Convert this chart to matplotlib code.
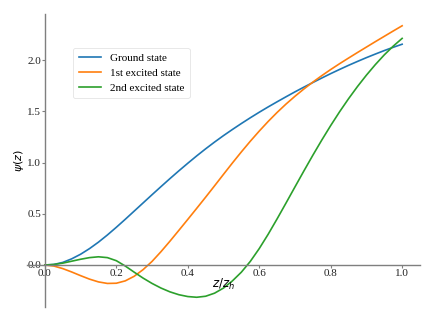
import matplotlib
matplotlib.use("Agg")
import matplotlib.pyplot as plt

z = [0.0, 0.025, 0.05, 0.075, 0.1, 0.125, 0.15, 0.175, 0.2, 0.225,
     0.25, 0.275, 0.3, 0.325, 0.35, 0.375, 0.4, 0.425, 0.45, 0.475,
     0.5, 0.525, 0.55, 0.575, 0.6, 0.625, 0.65, 0.675, 0.7, 0.725,
     0.75, 0.775, 0.8, 0.825, 0.85, 0.875, 0.9, 0.925, 0.95, 0.975, 1.0]
ground = [0.0, 0.005, 0.025, 0.06, 0.105, 0.16, 0.223, 0.293, 0.368, 0.446,
          0.526, 0.606, 0.686, 0.765, 0.843, 0.919, 0.993, 1.065, 1.134, 1.200,
          1.263, 1.323, 1.381, 1.437, 1.491, 1.543, 1.593, 1.642, 1.690, 1.736,
          1.781, 1.825, 1.868, 1.909, 1.949, 1.987, 2.024, 2.059, 2.093, 2.125, 2.155]
first = [0.0, -0.01, -0.035, -0.068, -0.104, -0.138, -0.165, -0.18, -0.178, -0.155,
         -0.11, -0.045, 0.035, 0.13, 0.232, 0.338, 0.445, 0.553, 0.662, 0.773,
         0.885, 0.996, 1.104, 1.208, 1.307, 1.401, 1.489, 1.571, 1.647, 1.718,
         1.785, 1.848, 1.908, 1.965, 2.02, 2.074, 2.127, 2.18, 2.232, 2.284, 2.335]
second = [0.0, 0.005, 0.018, 0.037, 0.056, 0.072, 0.08, 0.072, 0.042, -0.01,
          -0.07, -0.128, -0.18, -0.225, -0.262, -0.29, -0.308, -0.315, -0.305, -0.275,
          -0.225, -0.155, -0.07, 0.035, 0.16, 0.30, 0.45, 0.605, 0.762, 0.918,
          1.071, 1.219, 1.361, 1.496, 1.623, 1.742, 1.853, 1.956, 2.051, 2.136, 2.212]
labels = ["Ground state", "1st excited state", "2nd excited state"]
xticks = [0.0, 0.2, 0.4, 0.6, 0.8, 1.0]
yticks = [0.0, 0.5, 1.0, 1.5, 2.0]

W, H = 435, 309
fig = plt.figure(figsize=(W / 100, H / 100), dpi=100)
ax = fig.add_axes([27 / W, 1 - 307 / H, (420 - 27) / W, (307 - 14) / H])

for ys, lab in zip([ground, first, second], labels):
    ax.plot(z, ys, lw=1.2, label=lab)

ax.set_xlim(-0.05, 1.05)
ax.set_ylim(-0.41, 2.45)
ax.spines["left"].set_position(("data", 0))
ax.spines["bottom"].set_position(("data", 0))
ax.spines["top"].set_visible(False)
ax.spines["right"].set_visible(False)
for s in ("left", "bottom"):
    ax.spines[s].set_color("#7f7f7f")
    ax.spines[s].set_linewidth(1.0)
ax.tick_params(colors="#7f7f7f", length=2.0, width=0.8, pad=0.8, labelcolor="#222222")

ax.set_xticks(xticks)
ax.set_yticks(yticks)
ax.set_xticklabels([f"{t:.1f}" for t in xticks], fontfamily="Liberation Serif", fontsize=8)
ax.set_yticklabels([f"{t:.1f}" for t in yticks], fontfamily="Liberation Serif", fontsize=8)

fig.text(223 / W, 1 - 284 / H, r"$z/z_h$", ha="center", va="center", fontsize=8.5)
fig.text(19.5 / W, 1 - 161 / H, r"$\psi(z)$", ha="center", va="center", fontsize=8, rotation=90)

leg = fig.legend(*ax.get_legend_handles_labels(), loc="upper left",
                 bbox_to_anchor=(73 / W, 1 - 48 / H),
                 prop={"family": "Liberation Serif", "size": 8}, handlelength=2.0,
                 handletextpad=0.8, frameon=True, borderpad=0.5, labelspacing=0.45,
                 borderaxespad=0.0)
leg.get_frame().set_edgecolor("#dddddd")
leg.get_frame().set_linewidth(0.6)

fig.savefig("out.png", dpi=100)
